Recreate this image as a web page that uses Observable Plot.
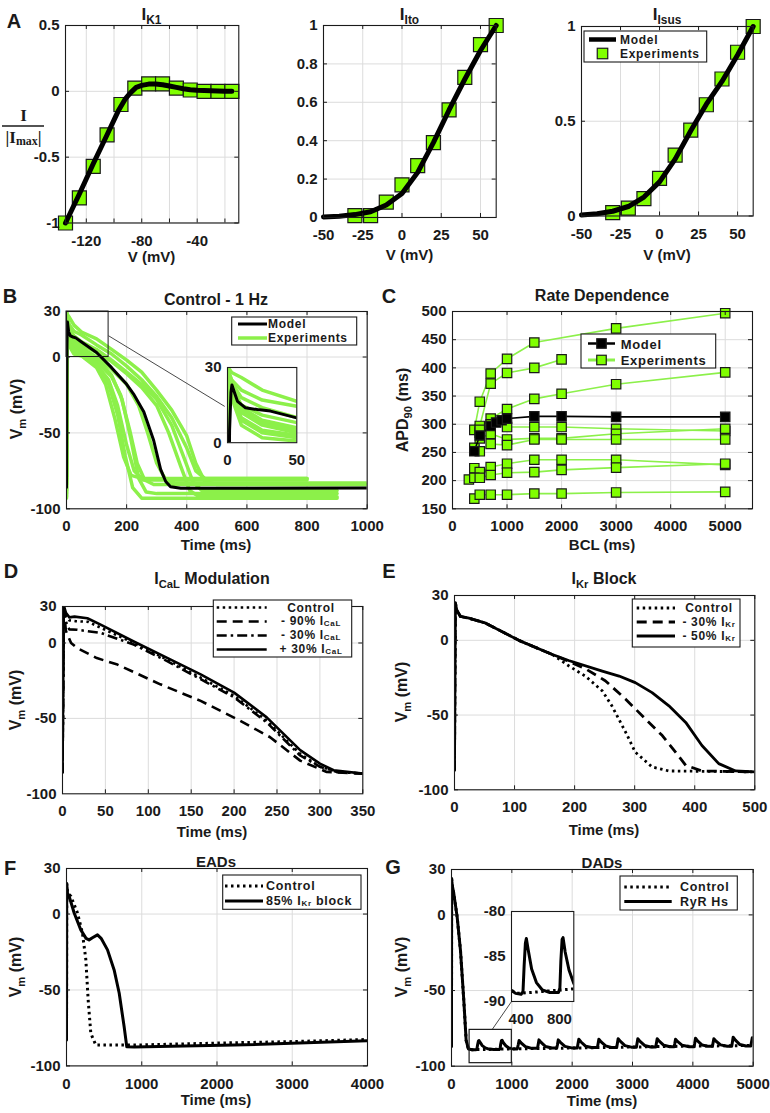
<!DOCTYPE html>
<html><head><meta charset="utf-8">
<script src="https://cdn.jsdelivr.net/npm/d3@7"></script>
<script src="https://cdn.jsdelivr.net/npm/@observablehq/plot@0.6"></script>
<style>
body{margin:0;background:#fff;}
#root{position:relative;width:770px;height:1113px;overflow:hidden;background:#fff;}
</style></head><body><div id="root"></div>
<script>
// ================= DATA =================
// Panel A: I-V relationships (normalized)
const ik1V = [-135,-125,-115,-105,-95,-85,-75,-65,-55,-45,-35,-25,-15];
const ik1Exp = [-1.0,-0.81,-0.57,-0.33,-0.10,0.025,0.056,0.056,0.025,0.01,0,0,0];
const ik1ModelV = [-135,-125,-115,-105,-97,-92,-88,-84,-80,-75,-70,-65,-60,-55,-50,-45,-40,-30,-20,-15];
const ik1Model = [-1,-0.78,-0.55,-0.33,-0.15,-0.06,-0.01,0.03,0.045,0.055,0.055,0.05,0.04,0.03,0.02,0.012,0.008,0.004,0.001,0];
const itoV = [-30,-20,-10,0,10,20,30,40,50,60];
const itoExp = [0.01,0.01,0.08,0.17,0.27,0.39,0.56,0.73,0.90,1.0];
const itoModelV = [-50,-40,-30,-20,-10,0,10,20,30,40,50,60];
const itoModel = [0.003,0.007,0.015,0.03,0.065,0.125,0.235,0.39,0.56,0.72,0.87,1.0];
const isusV = [-30,-20,-10,0,10,20,30,40,50,60];
const isusExp = [0.018,0.041,0.092,0.198,0.321,0.453,0.587,0.723,0.864,1.0];
const isusModelV = [-50,-40,-30,-20,-10,0,10,20,30,40,50,60];
const isusModel = [0.005,0.012,0.025,0.05,0.1,0.18,0.3,0.45,0.59,0.71,0.85,1.0];

// Panel B: control AP at 1 Hz  [time ms, Vm mV]
const bModel = [[0,-86],[1.5,5],[2.5,20],[3.2,23],[5,20],[7.2,16.5],[13,13.9],[21.6,13.2],[31,12.6],[50,9.9],[100,3],[150,-7],[200,-18],[225,-25],[257,-36],[290,-55],[313,-74],[330,-82],[346,-85.5],[380,-86.5],[1000,-86.3]];
const bExp1 = [[0,-80],[0.5,27],[3,18],[10,7],[25,2],[50,0.7],[100,-7],[130,-18],[160,-40],[190,-66],[215,-78],[250,-80],[800,-80]];
const bExp2 = [[0,-84],[0.5,29],[3,22],[10,12],[25,7],[50,4],[100,-3],[150,-13],[180,-25],[210,-48],[235,-70],[260,-81],[290,-84],[1000,-84]];
const bExp3 = [[0,-93],[0.5,25],[3,19],[10,10],[25,5],[50,3],[100,-6],[140,-18],[170,-38],[195,-65],[220,-86],[250,-93],[900,-93]];
const bExp4 = [[0,-90],[0.5,26],[3,21],[10,13],[25,8],[50,5],[100,-1],[150,-12],[185,-28],[215,-55],[240,-80],[265,-89],[300,-90],[900,-90]];
const bExp5 = [[0,-81],[0.5,28],[3,20],[10,9],[25,4],[50,2],[100,-5],[140,-15],[170,-32],[200,-58],[225,-75],[255,-81],[800,-81]];
const bExp6 = [[0,-84],[0.5,30],[3,28],[10,26],[25,21],[50,16.5],[100,12],[150,5],[200,-2],[250,-10],[300,-22],[350,-35],[400,-52],[430,-70],[460,-82],[500,-84],[1000,-84]];
const bExp7 = [[0,-80],[0.5,28],[3,25],[10,21],[25,17],[50,14.5],[100,8],[150,2],[200,-6],[250,-15],[300,-26],[350,-40],[400,-60],[430,-75],[460,-80],[800,-80]];
const bExp8 = [[0,-92],[0.5,26],[3,22],[10,15],[25,11],[50,8],[100,3],[150,-3],[200,-11],[250,-20],[300,-32],[340,-50],[380,-72],[410,-88],[440,-92],[900,-92]];
const bExp9 = [[0,-88],[0.5,27],[3,24],[10,18],[25,14],[50,10],[100,5],[150,-2],[200,-10],[250,-18],[300,-28],[350,-45],[390,-66],[420,-82],[450,-88],[900,-88]];
const bExp10 = [[0,-83],[0.5,29],[3,25],[10,14],[25,9],[50,6],[100,0],[150,-8],[200,-18],[240,-32],[270,-50],[300,-70],[330,-81],[360,-83],[1000,-83]];
const bZoomRect = [0, 140, 0, 30];            // t1,t2,V1,V2 of the zoom box
const bConnector = [[140.7, 13.9], [525, -32.4]];

// Panel C: rate dependence  [BCL ms, APD90 ms]
const cModel = [[400,252],[500,280],[700,297],[800,303],[900,307],[1000,310],[1500,314],[2000,314],[3000,313],[5000,313]];
const cExp1 = [[400,290],[500,340],[700,390],[1000,416],[1500,445],[3000,470],[5000,497]];
const cExp2 = [[400,255],[500,297],[700,372],[1000,391],[1500,400],[2000,415]];
const cExp3 = [[500,285],[700,310],[1000,327],[1500,345],[2000,354],[3000,371],[5000,392]];
const cExp4 = [[400,258],[500,290],[700,300],[1000,295],[1500,295],[2000,295],[3000,292],[5000,288]];
const cExp5 = [[500,275],[700,283],[1000,273],[1500,275],[2000,275],[3000,283],[5000,292]];
const cExp6 = [[500,252],[700,265],[1000,263],[1500,273],[2000,273],[3000,273],[5000,273]];
const cExp7 = [[400,222],[500,215],[700,224],[1000,230],[1500,237],[2000,237],[3000,237],[5000,228]];
const cExp8 = [[300,202],[400,205],[500,205],[700,210],[1000,214],[1500,215],[2000,219],[3000,223],[5000,230]];
const cExp9 = [[400,168],[500,175],[700,175],[1000,175],[1500,177],[2000,177],[3000,179],[5000,180]];

// Panel D: ICaL modulation
const dControl = [[0,-86],[1.5,24],[4,18],[8,15],[15,14.5],[30,14],[45,10],[83,0],[122,-11],[161,-23],[200,-35],[238,-51.5],[277,-73.5],[300,-82],[320,-85.5],[350,-86.6]];
const dMinus90 = [[0,-86],[1.5,22],[4,8],[10,0],[17,-3.3],[40,-10],[64,-14.3],[114,-27.4],[161,-38.4],[207,-51.5],[242,-62.5],[277,-78],[308,-85.5],[350,-86.6]];
const dMinus30 = [[0,-86],[1.5,23],[4,14],[8,9],[17,8.8],[45,6.6],[83,-1],[122,-12],[161,-24],[200,-36],[238,-52.6],[277,-74.6],[300,-82],[320,-85.5],[350,-86.6]];
const dPlus30 = [[0,-86],[1.5,25],[4,20],[8,17],[14,17.5],[29,16.4],[45,12],[83,1],[122,-9.9],[161,-20.8],[200,-32.9],[238,-49.3],[277,-71],[300,-80],[316,-84.4],[350,-86.6]];

// Panel E: IKr block
const eControl = [[0,-87],[1.5,25],[4,20],[10,16],[24,14.8],[52,11.5],[107,0],[163,-9.5],[190,-17],[218,-24],[246,-33.8],[262,-43.8],[285,-61.5],[301,-74.8],[329,-84.7],[357,-87.4],[500,-88]];
const eMinus30 = [[0,-87],[1.5,25],[4,20],[10,16],[24,14.8],[52,11.5],[107,0],[163,-9.5],[190,-14],[218,-19],[251,-27],[285,-39.4],[318,-52.6],[346,-63.7],[368,-74.8],[385,-83.6],[412,-87.4],[500,-88]];
const eMinus50 = [[0,-87],[1.5,25],[4,20],[10,16],[24,14.8],[52,11.5],[107,0],[163,-9.5],[190,-13.5],[246,-20.6],[274,-23.9],[301,-28.3],[329,-35],[357,-43.8],[385,-54.9],[412,-70.4],[440,-82.5],[468,-87.4],[500,-88]];

// Panel F: EADs
const fControl = [[0,-83],[3,20],[15,14],[58,11.7],[146,0.7],[212,-12.6],[257,-30],[288,-56.6],[323,-78.6],[390,-86.3],[900,-86.3],[2000,-85],[3000,-84],[4000,-82.6]];
const fBlock = [[0,-83],[3,20],[12,14],[35,11.7],[102,0.7],[190,-10.4],[260,-16],[300,-17],[350,-15.5],[412,-13.7],[460,-16],[545,-23.6],[633,-36.8],[700,-52],[766,-74.2],[801,-87.4],[900,-87.6],[2228,-86.3],[4000,-83.5]];

// Panel G: DADs
const gControl = [[0,-87],[2,24],[10,20],[39,13.9],[94,-1.5],[149,-23.6],[204,-56.6],[243,-83],[280,-88.6],[343,-89.1],[500,-89],[950,-88.6],[2000,-88],[3500,-87],[5000,-86.3]];
const gRyR = [[0,-87],[2,24],[10,20],[39,13.9],[94,-1.5],[149,-23.6],[204,-56.6],[243,-83],[280,-88.6],[343,-89.1],[400,-89.2],[420,-88.9],[432,-86],[445,-83.5],[455,-83],[475,-84.3],[510,-86.4],[560,-87.9],[620,-88.7],[700,-89],[790,-89],[805,-88.5],[815,-85.5],[828,-83.1],[838,-82.9],[860,-84.5],[900,-86.5],[950,-88],[1000,-88.4],[1090,-88.6],[1105,-86],[1120,-83],[1150,-84.5],[1230,-87.2],[1330,-88.2],[1425,-88.2],[1435,-86],[1450,-82.6],[1485,-84.3],[1560,-87],[1660,-88],[1745,-88],[1755,-86],[1770,-82.6],[1805,-84.2],[1880,-86.9],[1990,-87.9],[2085,-87.9],[2095,-85.5],[2110,-82.2],[2147,-84],[2222,-86.8],[2320,-87.7],[2418,-87.7],[2428,-85.5],[2442,-82.2],[2480,-84],[2555,-86.6],[2650,-87.6],[2738,-87.6],[2748,-85.2],[2762,-81.8],[2800,-83.6],[2875,-86.4],[2980,-87.4],[3064,-87.4],[3074,-85.2],[3088,-81.8],[3125,-83.6],[3200,-86.3],[3300,-87.3],[3385,-87.3],[3395,-85],[3409,-81.8],[3447,-83.6],[3520,-86.2],[3620,-87.2],[3690,-87.2],[3700,-85.2],[3713,-82.2],[3750,-83.8],[3825,-86.2],[3940,-87.1],[4020,-87.1],[4030,-85],[4044,-81.5],[4082,-83.4],[4155,-86],[4255,-86.9],[4324,-86.9],[4334,-84.8],[4348,-81.8],[4385,-83.5],[4460,-85.9],[4570,-86.8],[4644,-86.8],[4654,-84.5],[4668,-80.8],[4705,-82.8],[4780,-85.7],[4880,-86.6],[4960,-86.6],[4970,-84.5],[4985,-81.2],[5000,-81.6]];
const gZoomRect = [300, 1000, -98, -76];
const gConnector = [[675, -75.7], [994, -57.3]];

// ================= STYLE =================
const SANS = "'Liberation Sans', Arial, Helvetica, sans-serif";
const LEG = "'Liberation Sans', Arial, sans-serif";
const SERIF = "'Liberation Serif', 'Times New Roman', serif";
const GREEN = "#80ff00";
const GREENLINE = "#8cf04a";
const INK = "#1a1a1a";
const GRID = "#dcdcdc";

const root = document.getElementById("root");
const pts = a => a.map(([x, y]) => ({x, y}));
const zip = (xs, ys) => xs.map((x, i) => ({x, y: ys[i]}));
const fmt = d => String(d);

function panel(o) {
  const ml = 60, mr = 15, mt = 15, mb = 45;
  const w = o.x1 - o.x0, h = o.y1 - o.y0;
  const [xa, xb] = o.xDomain, [ya, yb] = o.yDomain;
  const dx = (xb - xa) * 4 / w, dy = (yb - ya) * 4 / h;
  const xg = o.xGrid ?? o.xTicks, yg = o.yGrid ?? o.yTicks;
  const marks = [];
  if (o.inset) marks.push(Plot.frame({fill: "white", stroke: null}));
  marks.push(Plot.ruleX(xg, {stroke: GRID, strokeWidth: 1}));
  marks.push(Plot.ruleY(yg, {stroke: GRID, strokeWidth: 1}));
  marks.push(...o.marks);
  marks.push(Plot.ruleX(xg, {y1: ya, y2: ya + dy, stroke: INK}));
  marks.push(Plot.ruleX(xg, {y1: yb, y2: yb - dy, stroke: INK}));
  marks.push(Plot.ruleY(yg, {x1: xa, x2: xa + dx, stroke: INK}));
  marks.push(Plot.ruleY(yg, {x1: xb, x2: xb - dx, stroke: INK}));
  marks.push(Plot.frame({stroke: INK, strokeWidth: 1.1}));
  marks.push(Plot.axisX(o.xTicks, {tickSize: 0, tickPadding: 12, tickFormat: o.xFmt ?? fmt, label: null}));
  marks.push(Plot.axisY(o.yTicks, {tickSize: 0, tickPadding: 6, tickFormat: o.yFmt ?? fmt, label: null}));
  const p = Plot.plot({
    width: w + ml + mr, height: h + mt + mb,
    marginLeft: ml, marginRight: mr, marginTop: mt, marginBottom: mb,
    x: {domain: o.xDomain}, y: {domain: o.yDomain},
    style: {fontFamily: SANS, fontSize: "15px", fontWeight: "bold", background: "transparent", color: INK, overflow: "visible"},
    marks
  });
  p.style.position = "absolute";
  p.style.left = (o.x0 - ml) + "px";
  p.style.top = (o.y0 - mt) + "px";
  p.style.maxWidth = "none";
  root.appendChild(p);
  return p;
}

const sq = (data, r, fill) => Plot.dot(data, {x: "x", y: "y", symbol: "square", r, fill, stroke: INK, strokeWidth: 1.2});
const ln = (data, stroke, strokeWidth, extra = {}) => Plot.line(data, {x: "x", y: "y", stroke, strokeWidth, clip: true, ...extra});

// ---- A1: IK1
panel({x0: 65, x1: 238.3, y0: 25, y1: 222.5, xDomain: [-135, -10], yDomain: [-1, 0.5],
  xTicks: [-120, -80, -40], xGrid: [-120, -100, -80, -60, -40, -20], yTicks: [-1, -0.5, 0, 0.5],
  marks: [sq(zip(ik1V, ik1Exp), 7.9, GREEN), ln(zip(ik1ModelV, ik1Model), "black", 5, {clip: false})]});
// ---- A2: Ito
panel({x0: 323.3, x1: 496, y0: 25, y1: 217, xDomain: [-50, 60], yDomain: [0, 1],
  xTicks: [-50, -25, 0, 25, 50], yTicks: [0, 0.2, 0.4, 0.6, 0.8, 1],
  marks: [sq(zip(itoV, itoExp), 7.9, GREEN), ln(zip(itoModelV, itoModel), "black", 5, {clip: false})]});
// ---- A3: Isus
panel({x0: 581, x1: 752.7, y0: 25.5, y1: 215, xDomain: [-50, 60], yDomain: [0, 1],
  xTicks: [-50, -25, 0, 25, 50], yTicks: [0, 0.5, 1],
  marks: [sq(zip(isusV, isusExp), 7.9, GREEN), ln(zip(isusModelV, isusModel), "black", 5, {clip: false})]});

// ---- B: control 1 Hz
const bExps = [bExp1, bExp2, bExp3, bExp4, bExp5, bExp6, bExp7, bExp8, bExp9, bExp10];
panel({x0: 66, x1: 366.7, y0: 311, y1: 508.3, xDomain: [0, 1000], yDomain: [-100, 30],
  xTicks: [0, 200, 400, 600, 800, 1000], yTicks: [-100, -50, 0, 30],
  marks: [
    ...bExps.map(a => ln(pts(a), GREENLINE, 3.5)),
    ln(pts(bModel), "black", 3),
    Plot.rect([bZoomRect], {x1: d => d[0], x2: d => d[1], y1: d => d[2], y2: d => d[3], fill: "none", stroke: INK, strokeWidth: 1}),
    Plot.line(pts(bConnector), {x: "x", y: "y", stroke: INK, strokeWidth: 0.8})
  ]});
panel({x0: 226.7, x1: 296, y0: 366.5, y1: 441.7, xDomain: [0, 50], yDomain: [0, 30], inset: true,
  xTicks: [0, 50], yTicks: [0, 30], xGrid: [], yGrid: [],
  marks: [...bExps.map(a => ln(pts(a), GREENLINE, 3.5)), ln(pts(bModel), "black", 3)]});

// ---- C: rate dependence
const cExps = [cExp1, cExp2, cExp3, cExp4, cExp5, cExp6, cExp7, cExp8, cExp9];
panel({x0: 451.7, x1: 751.7, y0: 310.5, y1: 507.8, xDomain: [0, 5500], yDomain: [150, 500],
  xTicks: [0, 1000, 2000, 3000, 4000, 5000], yTicks: [150, 200, 250, 300, 350, 400, 450, 500],
  marks: [
    ...cExps.map(a => ln(pts(a), GREENLINE, 1.6)),
    ...cExps.map(a => sq(pts(a), 5.3, GREEN)),
    ln(pts(cModel), "black", 1.6),
    sq(pts(cModel), 5.3, "black")
  ]});

// ---- D: ICaL modulation
panel({x0: 61.7, x1: 362, y0: 605.7, y1: 793, xDomain: [0, 350], yDomain: [-100, 24.2],
  xTicks: [0, 50, 100, 150, 200, 250, 300, 350], yTicks: [-100, -50, 0, 24.2], yGrid: [-50, 0],
  yFmt: d => d > 20 ? "30" : String(d),
  marks: [
    ln(pts(dControl), "black", 2.6, {strokeDasharray: "2.5,3.5", strokeLinecap: "butt"}),
    ln(pts(dMinus90), "black", 2.6, {strokeDasharray: "10,6", strokeLinecap: "butt"}),
    ln(pts(dMinus30), "black", 2.6, {strokeDasharray: "10,4,2.5,4", strokeLinecap: "butt"}),
    ln(pts(dPlus30), "black", 2.6)
  ]});

// ---- E: IKr block
panel({x0: 454, x1: 754.3, y0: 595, y1: 789.3, xDomain: [0, 500], yDomain: [-100, 30],
  xTicks: [0, 100, 200, 300, 400, 500], yTicks: [-100, -50, 0, 30],
  marks: [
    ln(pts(eControl), "black", 2.8, {strokeDasharray: "2.5,3.5", strokeLinecap: "butt"}),
    ln(pts(eMinus30), "black", 2.8, {strokeDasharray: "10,6", strokeLinecap: "butt"}),
    ln(pts(eMinus50), "black", 2.8)
  ]});

// ---- F: EADs
panel({x0: 65.7, x1: 366.7, y0: 868.3, y1: 1065.7, xDomain: [0, 4000], yDomain: [-100, 30],
  xTicks: [0, 1000, 2000, 3000, 4000], yTicks: [-100, -50, 0, 30],
  marks: [
    ln(pts(fControl), "black", 3, {strokeDasharray: "2.5,3.5", strokeLinecap: "butt"}),
    ln(pts(fBlock), "black", 3)
  ]});

// ---- G: DADs
panel({x0: 451, x1: 752.7, y0: 869, y1: 1065.7, xDomain: [0, 5000], yDomain: [-100, 30],
  xTicks: [0, 1000, 2000, 3000, 4000, 5000], yTicks: [-100, -50, 0, 30],
  marks: [
    ln(pts(gControl), "black", 3, {strokeDasharray: "2.5,3.5", strokeLinecap: "butt"}),
    ln(pts(gRyR), "black", 3),
    Plot.rect([gZoomRect], {x1: d => d[0], x2: d => d[1], y1: d => d[2], y2: d => d[3], fill: "none", stroke: INK, strokeWidth: 1.2}),
    Plot.line(pts(gConnector), {x: "x", y: "y", stroke: INK, strokeWidth: 0.8})
  ]});
panel({x0: 511, x1: 573.3, y0: 911, y1: 1001, xDomain: [300, 950], yDomain: [-90, -80], inset: true,
  xTicks: [400, 800], yTicks: [-90, -85, -80], xGrid: [], yGrid: [],
  marks: [
    ln(pts(gControl), "black", 3, {strokeDasharray: "2.5,3.5", strokeLinecap: "butt"}),
    ln(pts(gRyR), "black", 3)
  ]});

// ================= TEXT OVERLAY =================
const NS = "http://www.w3.org/2000/svg";
const ov = document.createElementNS(NS, "svg");
ov.setAttribute("width", 770); ov.setAttribute("height", 1113);
ov.style.cssText = "position:absolute;left:0;top:0;overflow:visible;pointer-events:none";
root.appendChild(ov);
function el(tag, attrs, parent = ov) {
  const e = document.createElementNS(NS, tag);
  for (const k in attrs) e.setAttribute(k, attrs[k]);
  parent.appendChild(e); return e;
}
function txt(x, y, segs, o = {}) {
  const size = o.size ?? 15;
  const t = el("text", {x, y, "font-family": o.family ?? SANS, "font-size": size, "font-weight": o.weight ?? "bold",
    "text-anchor": o.anchor ?? "middle", "dominant-baseline": "central", fill: INK});
  if (o.ls) t.setAttribute("letter-spacing", o.ls);
  if (o.rotate) t.setAttribute("transform", `rotate(${o.rotate} ${x} ${y})`);
  if (typeof segs === "string") segs = [[segs]];
  let shift = 0;
  for (const [s, kind] of segs) {
    const ts = el("tspan", {}, t);
    const target = kind === "sub" ? (o.subDy ?? size * 0.35) : 0;
    if (target !== shift) { ts.setAttribute("dy", target - shift); shift = target; }
    if (kind === "sub") ts.setAttribute("font-size", o.subSize ?? size * 0.7);
    ts.textContent = s;
  }
  return t;
}
// panel letters
[["A", 14, 21], ["B", 10, 296], ["C", 389, 296], ["D", 11, 571], ["E", 389, 571], ["F", 10, 868], ["G", 393, 867]]
  .forEach(([s, x, y]) => txt(x, y, s, {size: 20}));
// titles
txt(151.5, 14, [["I"], ["K1", "sub"]], {size: 17});
txt(409.5, 14, [["I"], ["Ito", "sub"]], {size: 17});
txt(667, 14, [["I"], ["Isus", "sub"]], {size: 17});
txt(216, 299, "Control - 1 Hz", {size: 16});
txt(602, 295, "Rate Dependence", {size: 16});
txt(212, 578, [["I"], ["CaL", "sub"], [" Modulation"]], {size: 16});
txt(604, 578, [["I"], ["Kr", "sub"], [" Block"]], {size: 16});
txt(216, 861, "EADs", {size: 15});
txt(602, 862, "DADs", {size: 15});
// x labels
txt(151.5, 256, "V (mV)"); txt(409.5, 254, "V (mV)"); txt(667, 254, "V (mV)");
txt(216, 544, "Time (ms)"); txt(602, 544, "BCL (ms)");
txt(212, 831, "Time (ms)"); txt(604, 829, "Time (ms)");
txt(216, 1099, "Time (ms)"); txt(602, 1100, "Time (ms)");
// y labels
const vm = [["V"], ["m", "sub"], [" (mV)"]];
txt(16, 409, vm, {rotate: -90, size: 16});
txt(15, 700, vm, {rotate: -90, size: 16});
txt(401, 692, vm, {rotate: -90, size: 16});
txt(15, 967, vm, {rotate: -90, size: 16});
txt(401, 967, vm, {rotate: -90, size: 16});
txt(402, 410, [["APD"], ["90", "sub"], [" (ms)"]], {rotate: -90, size: 16});
// fraction I/|Imax|
txt(23.5, 115, "I", {family: SERIF, size: 17});
el("line", {x1: 2, x2: 44, y1: 126, y2: 126, stroke: INK, "stroke-width": 1.3});
txt(23.5, 137, [["|I"], ["max", "sub"], ["|"]], {family: SERIF, size: 17, subDy: 4});

// legends
function box(x1, y1, x2, y2) { el("rect", {x: x1, y: y1, width: x2 - x1, height: y2 - y1, fill: "white", stroke: INK, "stroke-width": 1.1}); }
function lline(x1, x2, y, stroke, w, dash) { const a = {x1, x2, y1: y, y2: y, stroke, "stroke-width": w}; if (dash) a["stroke-dasharray"] = dash; el("line", a); }
function lsq(cx, cy, s, fill) { el("rect", {x: cx - s / 2, y: cy - s / 2, width: s, height: s, fill, stroke: INK, "stroke-width": 1.2}); }
const lt = (x, y, segs, anchor = "start", size = 12) => txt(x, y, segs, {family: LEG, size, anchor, subDy: 2, subSize: 8, ls: 0.7});
// A3
box(584, 31, 706.7, 62);
lline(589, 616, 39.5, "black", 4.5); lt(620, 39.5, "Model");
lsq(602.5, 53.5, 10.5, GREEN); lt(620, 53.5, "Experiments");
// B
box(231.7, 317, 356.7, 345);
lline(238, 267, 324, "black", 3); lt(268, 324, "Model");
lline(238, 267, 338, GREENLINE, 3.5); lt(268, 338, "Experiments");
// C
box(581, 334, 715.7, 368);
lline(588, 615, 343.5, "black", 2.5); lsq(601.5, 343.5, 9.5, "black"); lt(620.7, 343.5, "Model", "start", 13);
lline(588, 615, 360, GREENLINE, 3); lsq(601.5, 360, 9.5, GREEN); lt(620.7, 360, "Experiments", "start", 13);
// D
box(213.3, 600, 351.7, 657);
lline(216.7, 266.7, 607.5, "black", 2.6, "2.5,3.5"); lt(311, 607.5, "Control", "middle");
lline(216.7, 266.7, 621.5, "black", 2.6, "10,6"); lt(311, 621, [["- 90% I"], ["CaL", "sub"]], "middle");
lline(216.7, 266.7, 635.5, "black", 2.6, "10,4,2.5,4"); lt(311, 635, [["- 30% I"], ["CaL", "sub"]], "middle");
lline(216.7, 266.7, 649.5, "black", 2.6); lt(311, 649, [["+ 30% I"], ["CaL", "sub"]], "middle");
// E
box(632.3, 599, 740, 647);
lline(636.7, 675, 608, "black", 2.8, "2.5,3.5"); lt(709, 608, "Control", "middle");
lline(636.7, 675, 622, "black", 2.8, "10,6"); lt(709, 621.5, [["- 30% I"], ["Kr", "sub"]], "middle");
lline(636.7, 675, 636, "black", 2.8); lt(709, 635.5, [["- 50% I"], ["Kr", "sub"]], "middle");
// F
box(222.7, 875, 361, 909.3);
lline(225, 263, 886, "black", 3, "2.5,3.5"); lt(266, 886, "Control", "start", 12.5);
lline(225, 263, 901, "black", 3); lt(266, 900.5, [["85% I"], ["Kr", "sub"], [" block"]], "start", 12.5);
// G
box(620, 876, 737.3, 910);
lline(624.3, 671.7, 887, "black", 3, "2.5,3.5"); lt(680, 887, "Control", "start", 12.5);
lline(624.3, 671.7, 901.5, "black", 3); lt(680, 901.5, "RyR Hs", "start", 12.5);
</script></body></html>
